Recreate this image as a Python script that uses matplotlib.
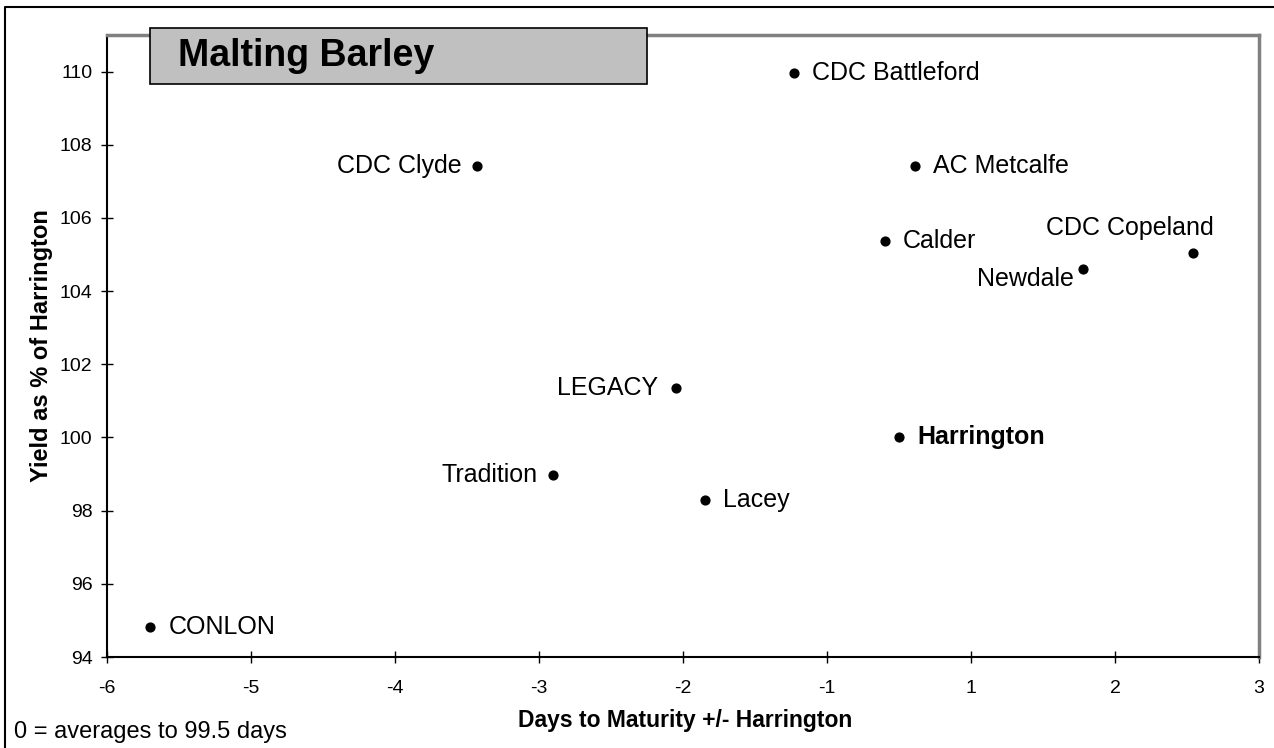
import matplotlib.pyplot as plt
from matplotlib.patches import Rectangle
from matplotlib.lines import Line2D

plt.rcParams['font.family'] = ['Liberation Sans', 'DejaVu Sans']

# x is given in axis tick units (-6 .. 2); the tick labels skip 0 as in the original
varieties = ['CDC Battleford', 'CDC Clyde', 'AC Metcalfe', 'Calder', 'CDC Copeland',
             'Newdale', 'LEGACY', 'Harrington', 'Tradition', 'Lacey', 'CONLON']
days = [-1.23, -3.43, -0.39, -0.60, 1.54, 0.78, -2.05, -0.50, -2.90, -1.85, -5.70]
yield_pct = [109.96, 107.41, 107.41, 105.37, 105.04, 104.60, 101.34, 100.0, 98.97, 98.30, 94.82]
tick_pos = [-6, -5, -4, -3, -2, -1, 0, 1, 2]
tick_labels = ['-6', '-5', '-4', '-3', '-2', '-1', '1', '2', '3']

# label placement: offset (points) and alignment
label_pos = {
    'CDC Clyde': (-11, 0, 'right', 'center'),
    'LEGACY': (-13, 0, 'right', 'center'),
    'Tradition': (-11, 0, 'right', 'center'),
    'Newdale': (-7, -7, 'right', 'center'),
    'CDC Copeland': (15, 18, 'right', 'center'),
}

fig = plt.figure(figsize=(12.74, 7.48), dpi=100)
ax = fig.add_axes([107 / 1274, 1 - 657 / 748, (1259 - 107) / 1274, (657 - 35) / 748])

ax.scatter(days, yield_pct, s=40, color='black', zorder=3)
for name, x, y in zip(varieties, days, yield_pct):
    dx, dy, ha, va = label_pos.get(name, (13, 0, 'left', 'center'))
    ax.annotate(name, (x, y), xytext=(dx, dy), textcoords='offset points',
                ha=ha, va=va, fontsize=18,
                fontweight='bold' if name == 'Harrington' else 'normal')

ax.set_xlim(-6, 2)
ax.set_ylim(94, 111)
ax.set_xticks(tick_pos)
ax.set_xticklabels(tick_labels)
ax.set_yticks(range(94, 111, 2))
ax.tick_params(direction='inout', length=9, width=1, labelsize=14, color='black')
ax.tick_params(axis='x', pad=12)
ax.tick_params(axis='y', pad=6)

for side in ['top', 'right']:
    ax.spines[side].set_color('#808080')
    ax.spines[side].set_linewidth(2.5)
for side in ['left', 'bottom']:
    ax.spines[side].set_color('black')
    ax.spines[side].set_linewidth(1.5)

fig.text(685 / 1274, 1 - 720 / 748, 'Days to Maturity +/- Harrington',
         ha='center', va='center', fontsize=16.5, fontweight='bold')
fig.text(42 / 1274, 1 - 346 / 748, 'Yield as % of Harrington', rotation=90,
         ha='center', va='center', fontsize=17, fontweight='bold')
fig.text(14 / 1274, 1 - 732 / 748, '0 = averages to 99.5 days',
         ha='left', va='center', fontsize=17)

# title box
fig.patches.append(Rectangle((150 / 1274, 1 - 84 / 748), (647 - 150) / 1274, (84 - 28) / 748,
                             transform=fig.transFigure, facecolor='#c0c0c0',
                             edgecolor='black', linewidth=1.2, zorder=5))
fig.text(178 / 1274, 1 - 56 / 748, 'Malting Barley', ha='left', va='center',
         fontsize=27, fontweight='bold', zorder=6)

# outer frame (top and left edges visible)
fig.lines.append(Line2D([5 / 1274, 5 / 1274, 1], [0, 1 - 7 / 748, 1 - 7 / 748],
                        transform=fig.transFigure, color='black', linewidth=1.5))

fig.savefig('out.png', dpi=100)
